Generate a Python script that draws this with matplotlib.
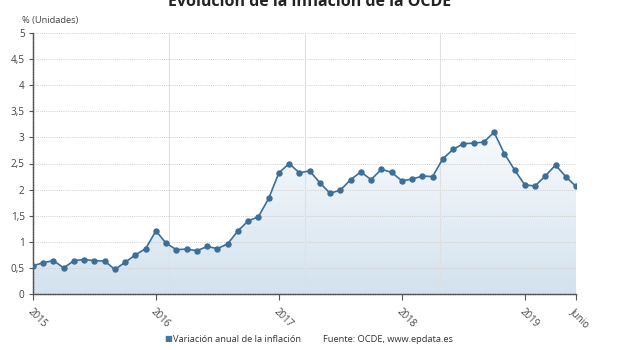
import numpy as np
import matplotlib
matplotlib.use("Agg")
import matplotlib.pyplot as plt
from matplotlib.patches import Polygon

plt.rcParams["font.family"] = ["Open Sans", "DejaVu Sans"]

# Datos (variación anual de la inflación OCDE, ene 2015 - jun 2019)
values_2015 = [0.54, 0.60, 0.64, 0.50, 0.64, 0.66, 0.64, 0.63, 0.47, 0.61, 0.75, 0.87]
values_2016 = [1.21, 0.97, 0.85, 0.86, 0.83, 0.91, 0.87, 0.96, 1.21, 1.40, 1.48, 1.83]
values_2017 = [2.32, 2.50, 2.32, 2.36, 2.13, 1.93, 1.99, 2.19, 2.34, 2.19, 2.39, 2.33]
values_2018 = [2.17, 2.20, 2.26, 2.25, 2.59, 2.77, 2.88, 2.89, 2.91, 3.10, 2.69, 2.38]
values_2019 = [2.09, 2.07, 2.26, 2.47, 2.25, 2.06]
values = values_2015 + values_2016 + values_2017 + values_2018 + values_2019

tick_pos = [0, 12, 24, 36, 48, 53]
tick_labels = ["2015", "2016", "2017", "2018", "2019", "Junio"]
y_ticks = [0, 0.5, 1, 1.5, 2, 2.5, 3, 3.5, 4, 4.5, 5]
y_labels = ["0", "0,5", "1", "1,5", "2", "2,5", "3", "3,5", "4", "4,5", "5"]

title = "Evolución de la inflación de la OCDE"
series_name = "Variación anual de la inflación"
source = "Fuente: OCDE, www.epdata.es"

line_color = "#3c6f98"
text_color = "#444444"

x = np.arange(len(values))

fig = plt.figure(figsize=(6.2, 3.5), dpi=100)
ax = fig.add_axes([33 / 620, 1 - 294 / 350, (576 - 33) / 620, (294 - 33) / 350])

# relleno con degradado bajo la línea
grad = np.linspace(0, 1, 256).reshape(-1, 1)
cmap = matplotlib.colors.LinearSegmentedColormap.from_list("g", ["#d3e2ee", "#f8fafc"])
img = ax.imshow(grad, cmap=cmap, aspect="auto", origin="lower",
                extent=[0, len(values) - 1, 0, max(values)], zorder=1)
poly = Polygon(np.column_stack([np.r_[x[0], x, x[-1]], np.r_[0, values, 0]]),
               closed=True, facecolor="none", edgecolor="none")
ax.add_patch(poly)
img.set_clip_path(poly)

ax.plot(x, values, color=line_color, lw=1.2, marker="o", ms=3.6, zorder=4)

ax.set_xlim(0, len(values) - 1)
ax.set_ylim(0, 5)

# rejilla
for yv in y_ticks[1:]:
    ax.axhline(yv, color="#cfcfcf", lw=0.7, ls=(0, (1, 1.2)), zorder=2)
for xv in np.linspace(0, len(values) - 1, 5)[1:]:
    ax.axvline(xv, color="#e0e0e0", lw=0.8, zorder=2)

for s in ["top", "right"]:
    ax.spines[s].set_visible(False)
for s in ["left", "bottom"]:
    ax.spines[s].set_color("#555555")
    ax.spines[s].set_linewidth(1.0)
    ax.spines[s].set_linestyle((0, (1.2, 0.6)))

ax.set_yticks(y_ticks)
ax.set_yticklabels(y_labels)
ax.set_xticks(tick_pos)
ax.set_xticklabels(tick_labels, rotation=-45, ha="left", va="top",
                   rotation_mode="anchor")
ax.tick_params(axis="y", length=3, width=0.8, color="#555555", labelsize=7.2,
               labelcolor=text_color, pad=3)
ax.tick_params(axis="x", length=4, width=0.8, color="#555555", labelsize=7,
               labelcolor=text_color, pad=5)

fig.text(22 / 620, 1 - 20 / 350, "% (Unidades)", fontsize=6.7, color=text_color,
         va="center", ha="left")
fig.text(0.5, 1 - 6 / 350, title, fontsize=11.5, fontweight="bold",
         color="#222222", ha="center", va="baseline")

# leyenda
fig.text(164 / 620, 1 - 340 / 350, "■", fontsize=6, color="#3f79a8",
         va="center", ha="left")
fig.text(173 / 620, 1 - 340 / 350, series_name, fontsize=6.7, color="#333333",
         va="center", ha="left")
fig.text(323 / 620, 1 - 340 / 350, source, fontsize=6.7, color="#333333",
         va="center", ha="left")

fig.savefig("out.png", dpi=100)
